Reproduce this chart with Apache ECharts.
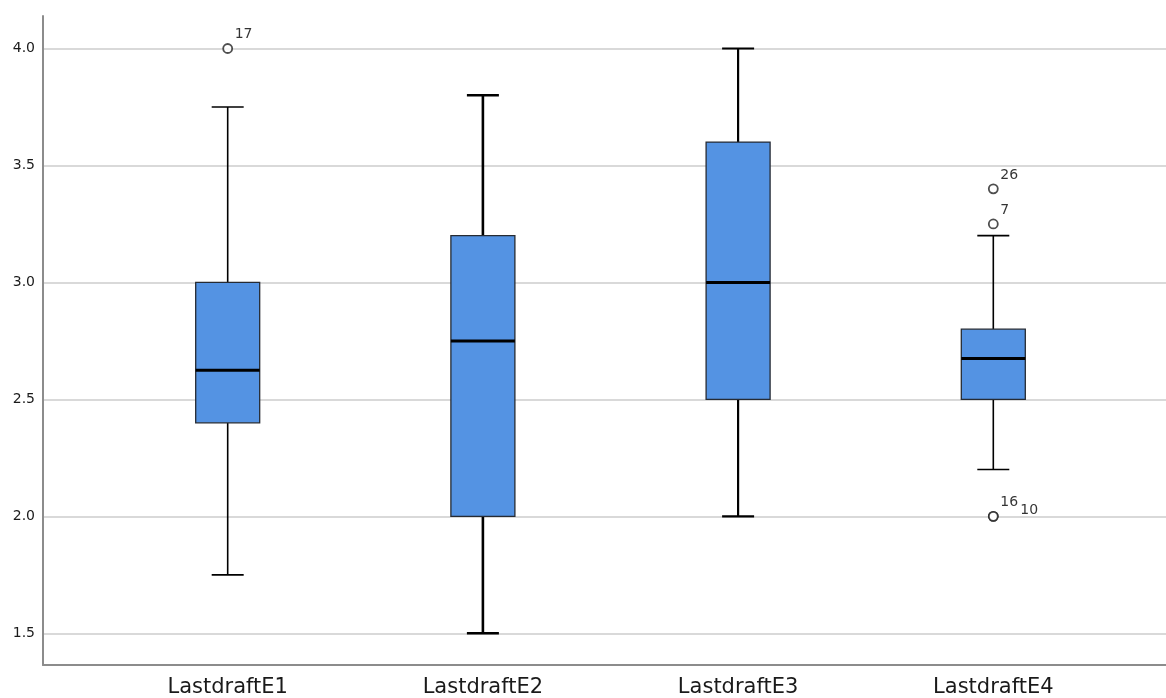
<!DOCTYPE html>
<html>
<head>
<meta charset="utf-8">
<script src="https://cdn.jsdelivr.net/npm/echarts@6/dist/echarts.min.js"></script>
<style>
html,body{margin:0;padding:0;background:#fff;}
#chart{width:1166px;height:698px;}
</style>
</head>
<body>
<div id="chart"></div>
<script>
// ---- data ----
const categories = ['LastdraftE1', 'LastdraftE2', 'LastdraftE3', 'LastdraftE4'];
const whiskerMin = [1.75, 1.5, 2.0, 2.2];
const q1 = [2.4, 2.0, 2.5, 2.5];
const medians = [2.625, 2.75, 3.0, 2.675];
const q3 = [3.0, 3.2, 3.6, 2.8];
const whiskerMax = [3.75, 3.8, 4.0, 3.2];
// outliers: [category index, value, case id]
const outlierCat = [0, 3, 3, 3, 3];
const outlierVal = [4.0, 3.4, 3.25, 2.0, 2.0];
const outlierId = ['17', '26', '7', '16', '10'];
const yTicks = [1.5, 2.0, 2.5, 3.0, 3.5, 4.0];

// ---- build ----
const lineWidths = [1.6, 2.6, 2.2, 1.6];
const boxData = categories.map((c, i) => [i + 1, whiskerMin[i], q1[i], medians[i], q3[i], whiskerMax[i]]);

const seen = {};
const outlierData = outlierCat.map((c, i) => {
  const key = c + '_' + outlierVal[i];
  const n = seen[key] || 0;
  seen[key] = n + 1;
  return {
    value: [c + 1, outlierVal[i]],
    label: {
      formatter: outlierId[i],
      offset: n === 0 ? [7, -14] : [27, -6]
    }
  };
});

function renderBox(params, api) {
  const x = api.value(0);
  const pMin = api.coord([x, api.value(1)]);
  const pQ1 = api.coord([x, api.value(2)]);
  const pMed = api.coord([x, api.value(3)]);
  const pQ3 = api.coord([x, api.value(4)]);
  const pMax = api.coord([x, api.value(5)]);
  const cx = pMed[0];
  const hw = 32, cw = 16;
  const lw = lineWidths[params.dataIndex];
  const wStyle = { stroke: '#000', lineWidth: lw };
  return {
    type: 'group',
    children: [
      { type: 'line', shape: { x1: cx, y1: pQ3[1], x2: cx, y2: pMax[1] }, style: wStyle },
      { type: 'line', shape: { x1: cx - cw, y1: pMax[1], x2: cx + cw, y2: pMax[1] }, style: wStyle },
      { type: 'line', shape: { x1: cx, y1: pQ1[1], x2: cx, y2: pMin[1] }, style: wStyle },
      { type: 'line', shape: { x1: cx - cw, y1: pMin[1], x2: cx + cw, y2: pMin[1] }, style: wStyle },
      { type: 'rect', shape: { x: cx - hw, y: pQ3[1], width: hw * 2, height: pQ1[1] - pQ3[1] },
        style: { fill: '#5493E3', stroke: '#262b33', lineWidth: 1.3 } },
      { type: 'line', shape: { x1: cx - hw, y1: pMed[1], x2: cx + hw, y2: pMed[1] },
        style: { stroke: '#000', lineWidth: 3 } }
    ]
  };
}

const chart = echarts.init(document.getElementById('chart'), null, { renderer: 'canvas' });
chart.setOption({
  animation: false,
  backgroundColor: '#fff',
  grid: { left: 43, right: 0, top: 16, bottom: 33, containLabel: false },
  xAxis: {
    type: 'value',
    min: 0.2763,
    max: 4.6767,
    axisLine: { show: true, onZero: false, lineStyle: { color: '#8c8c8c', width: 2 } },
    axisTick: { show: false },
    splitLine: { show: false },
    axisLabel: {
      customValues: [1, 2, 3, 4],
      formatter: v => categories[Math.round(v) - 1] || '',
      fontFamily: 'DejaVu Sans',
      fontSize: 21,
      color: '#1a1a1a',
      margin: 12
    }
  },
  yAxis: {
    type: 'value',
    min: 1.3645,
    max: 4.139,
    axisLine: { show: true, lineStyle: { color: '#8c8c8c', width: 2 } },
    axisTick: { show: false, customValues: yTicks },
    splitLine: { show: true, lineStyle: { color: '#d9d9d9', width: 2 } },
    axisLabel: {
      customValues: yTicks,
      formatter: v => v.toFixed(1),
      fontFamily: 'DejaVu Sans',
      fontSize: 14,
      color: '#1a1a1a',
      margin: 8
    }
  },
  series: [
    {
      type: 'custom',
      renderItem: renderBox,
      data: boxData,
      encode: { x: 0, y: [1, 2, 3, 4, 5] },
      z: 3
    },
    {
      type: 'scatter',
      data: outlierData,
      symbol: 'circle',
      symbolSize: 9,
      itemStyle: { color: '#fff', borderColor: '#222', borderWidth: 1.8 },
      label: {
        show: true,
        position: 'inside',
        fontFamily: 'DejaVu Sans',
        fontSize: 14,
        color: '#000',
        textBorderWidth: 0,
        align: 'left'
      },
      z: 4
    }
  ]
});
</script>
</body>
</html>
